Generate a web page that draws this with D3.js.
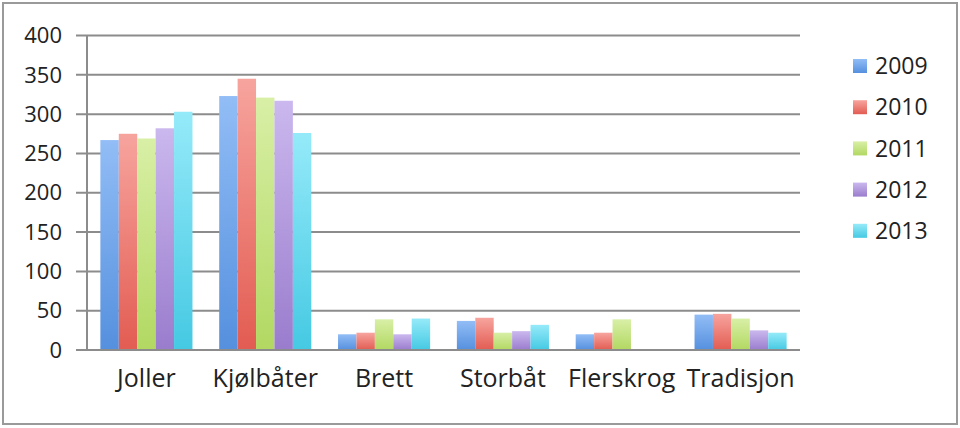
<!DOCTYPE html>
<html>
<head>
<meta charset="utf-8">
<script src="https://cdn.jsdelivr.net/npm/d3@7"></script>
<style>
  html, body { margin: 0; padding: 0; background: #fff; }
  svg { display: block; font-family: "Open Sans", sans-serif; }
</style>
</head>
<body>
<svg id="chart" width="960" height="428"></svg>
<script>
const categories = ["Joller", "Kjølbåter", "Brett", "Storbåt", "Flerskrog", "Tradisjon"];
const years = ["2009", "2010", "2011", "2012", "2013"];
const v2009 = [267, 323, 20, 37, 20, 45];
const v2010 = [275, 345, 22, 41, 22, 46];
const v2011 = [269, 321, 39, 22, 39, 40];
const v2012 = [282, 317, 20, 24, 0, 25];
const v2013 = [303, 276, 40, 32, 0, 22];
const yTicks = [0, 50, 100, 150, 200, 250, 300, 350, 400];

const seriesValues = [v2009, v2010, v2011, v2012, v2013];
const colors = [
  ["#92bdf6", "#5590de"],
  ["#f7a49e", "#e25c52"],
  ["#d8efa6", "#b2d862"],
  ["#cbb8ee", "#9a7ccd"],
  ["#95eaf9", "#45c9e3"]
];

const svg = d3.select("#chart");
const margin = { left: 87, right: 160, top: 35.5, bottom: 78 };
const W = 960, H = 428;

// frame
svg.append("rect").attr("x", 3).attr("y", 3).attr("width", 954).attr("height", 421)
  .attr("fill", "#fff").attr("stroke", "#9a9a9a").attr("stroke-width", 2);

const x0 = d3.scaleBand().domain(categories).range([margin.left, W - margin.right]).paddingInner(0.225).paddingOuter(0.1125);
const x1 = d3.scaleBand().domain(years).range([0, x0.bandwidth()]);
const y = d3.scaleLinear().domain([0, 400]).range([H - margin.bottom, margin.top]);

// gradients
const defs = svg.append("defs");
years.forEach((yr, i) => {
  const g = defs.append("linearGradient").attr("id", "g" + yr).attr("x1", 0).attr("y1", 0).attr("x2", 0).attr("y2", 1);
  g.append("stop").attr("offset", "0%").attr("stop-color", colors[i][0]);
  g.append("stop").attr("offset", "100%").attr("stop-color", colors[i][1]);
});

// gridlines
svg.append("g").selectAll("line").data(yTicks).join("line")
  .attr("x1", margin.left - 11).attr("x2", W - margin.right)
  .attr("y1", d => y(d)).attr("y2", d => y(d))
  .attr("stroke", "#8c8c8c").attr("stroke-width", 2);

// y axis line
svg.append("line").attr("x1", margin.left).attr("x2", margin.left)
  .attr("y1", y(400)).attr("y2", y(0)).attr("stroke", "#8c8c8c").attr("stroke-width", 2);

// y tick labels
svg.append("g").selectAll("text").data(yTicks).join("text")
  .attr("x", 62).attr("y", d => y(d)).attr("dy", "0.35em")
  .attr("text-anchor", "end").attr("font-size", 22).attr("fill", "#222")
  .text(d => d);

// bars
const groups = svg.append("g").selectAll("g").data(categories).join("g")
  .attr("transform", c => `translate(${x0(c)},0)`);
groups.selectAll("rect").data((c, ci) => years.map((yr, si) => ({ yr, v: seriesValues[si][ci] })))
  .join("rect")
  .filter(d => d.v > 0)
  .attr("x", d => x1(d.yr)).attr("width", x1.bandwidth())
  .attr("y", d => y(d.v)).attr("height", d => y(0) - y(d.v))
  .attr("fill", d => `url(#g${d.yr})`);

// baseline redraw
svg.append("line").attr("x1", margin.left - 11).attr("x2", W - margin.right)
  .attr("y1", y(0)).attr("y2", y(0)).attr("stroke", "#8c8c8c").attr("stroke-width", 2);

// category labels
svg.append("g").selectAll("text").data(categories).join("text")
  .attr("x", c => x0(c) + x0.bandwidth() / 2).attr("y", 387)
  .attr("text-anchor", "middle").attr("font-size", 25).attr("fill", "#222")
  .text(c => c);

// legend
const leg = svg.append("g").selectAll("g").data(years).join("g")
  .attr("transform", (d, i) => `translate(853,${66 + i * 41.2})`);
leg.append("rect").attr("x", 0).attr("y", -7).attr("width", 14).attr("height", 14)
  .attr("fill", d => `url(#g${d})`);
leg.append("text").attr("x", 22).attr("y", 0).attr("dy", "0.36em")
  .attr("font-size", 23).attr("fill", "#222").text(d => d);
</script>
</body>
</html>
